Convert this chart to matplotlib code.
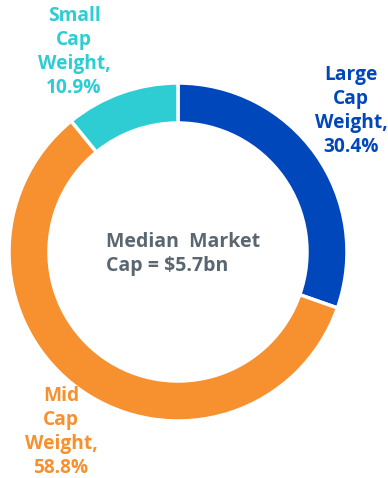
import matplotlib.pyplot as plt

# Portfolio weights by market-cap bucket (clockwise from 12 o'clock)
segments = ["Large Cap", "Mid Cap", "Small Cap"]
weights = [30.4, 58.8, 10.9]
colors = ["#0047BB", "#F7902F", "#2ECCD3"]
median_cap = 5.7

W, H = 388, 478
fig = plt.figure(figsize=(W / 100, H / 100), dpi=100)
ax = fig.add_axes([0, 0, 1, 1])

cx, cy, r_out = 178, H - 252, 169
ax.pie(weights, colors=colors, startangle=90, counterclock=False,
       center=(cx, cy), radius=r_out, frame=True,
       wedgeprops=dict(width=40, edgecolor="white", linewidth=2.5))
ax.set_xlim(0, W)
ax.set_ylim(0, H)
ax.set_aspect("equal")
ax.axis("off")

font = ["Open Sans", "DejaVu Sans"]
label_pos = [(351, H - 111), (61, H - 432), (74, H - 52)]
for name, w, c, (x, y) in zip(segments, weights, colors, label_pos):
    first, second = name.split()
    ax.text(x, y, f"{first}\n{second}\nWeight,\n{w:.1f}%", color=c,
            ha="center", va="center", multialignment="center",
            fontsize=13.8, fontweight="bold", family=font, linespacing=1.26)

ax.text(106, H - 254, f"Median  Market\nCap = ${median_cap}bn", color="#5B6770",
        ha="left", va="center", fontsize=14, fontweight="bold",
        family=font, linespacing=1.22)

fig.savefig("out.png", dpi=100)
